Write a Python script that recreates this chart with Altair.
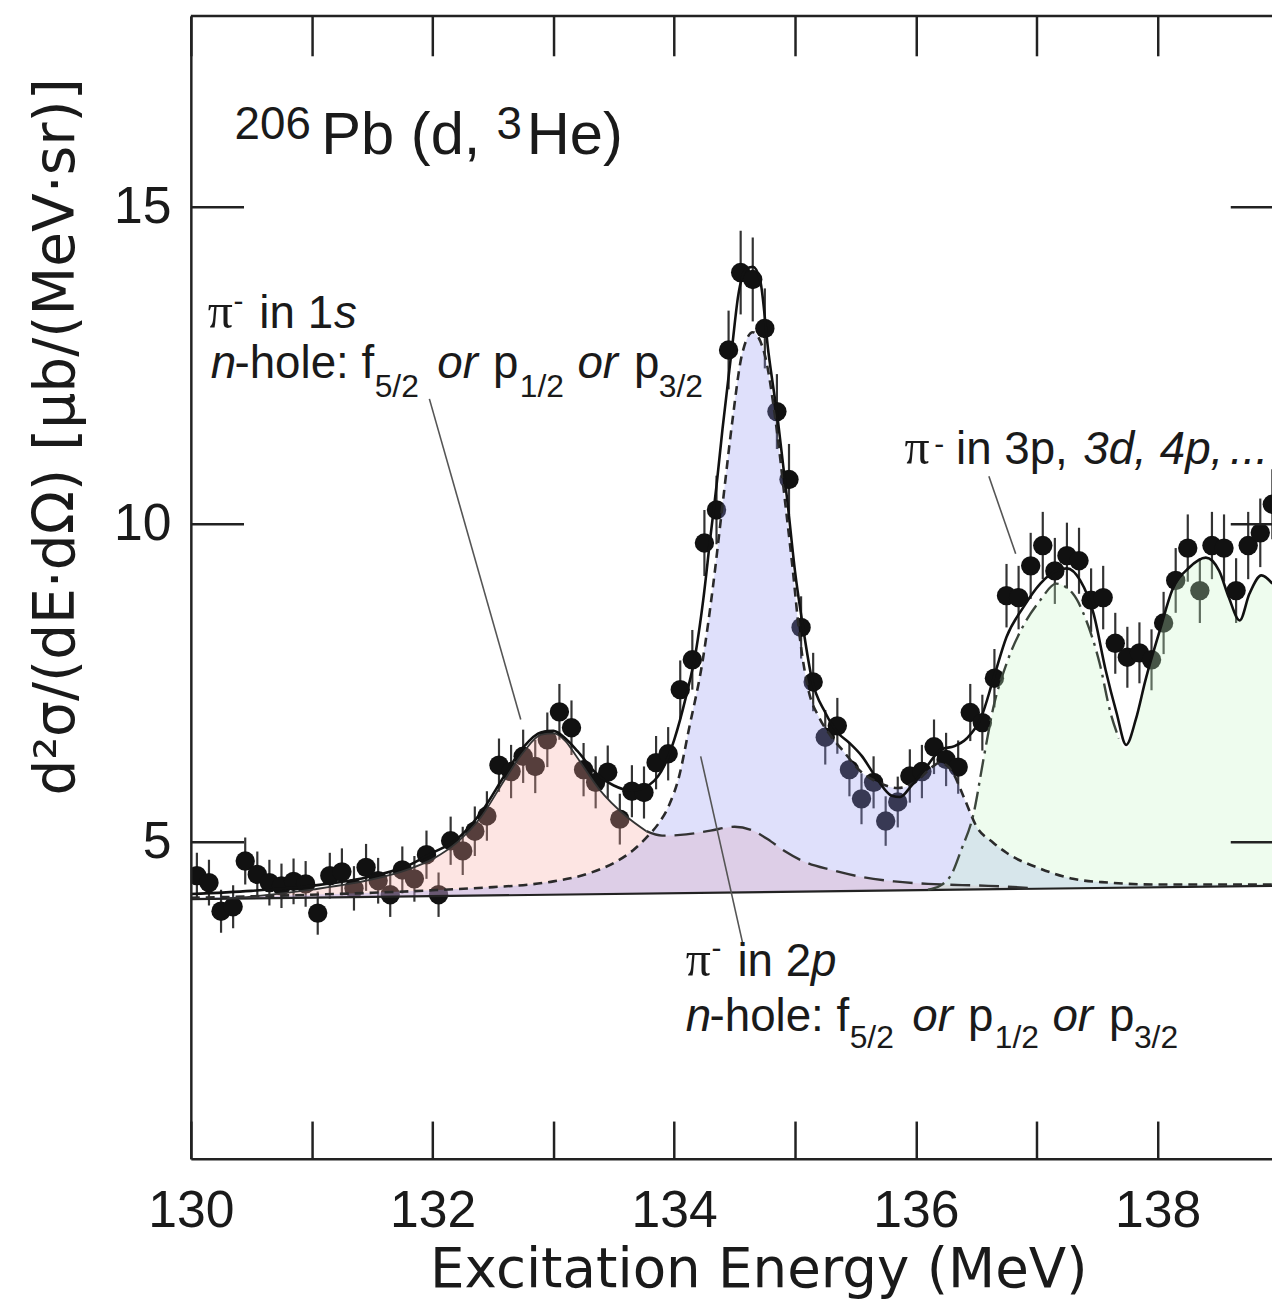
import altair as alt
import pandas as pd

# ---------------- data ----------------
energy = [130.05, 130.15, 130.25, 130.35, 130.45, 130.55, 130.65, 130.75, 130.85, 130.95,
          131.05, 131.15, 131.25, 131.35, 131.45, 131.55, 131.65, 131.75, 131.85, 131.95,
          132.05, 132.15, 132.25, 132.35, 132.45, 132.55, 132.65, 132.75, 132.85, 132.95,
          133.05, 133.15, 133.25, 133.35, 133.45, 133.55, 133.65, 133.75, 133.85, 133.95,
          134.05, 134.15, 134.25, 134.35, 134.45, 134.55, 134.65, 134.75, 134.85, 134.95,
          135.05, 135.15, 135.25, 135.35, 135.45, 135.55, 135.65, 135.75, 135.85, 135.95,
          136.05, 136.15, 136.25, 136.35, 136.45, 136.55, 136.65, 136.75, 136.85, 136.95,
          137.05, 137.15, 137.25, 137.35, 137.45, 137.55, 137.65, 137.75, 137.85, 137.95,
          138.05, 138.15, 138.25, 138.35, 138.45, 138.55, 138.65, 138.75, 138.85, 138.95]
xsec = [4.46, 4.35, 3.90, 3.97, 4.69, 4.48, 4.35, 4.30, 4.37, 4.33,
        3.87, 4.46, 4.52, 4.26, 4.59, 4.38, 4.16, 4.55, 4.41, 4.79,
        4.16, 5.01, 4.85, 5.16, 5.40, 6.20, 6.10, 6.34, 6.18, 6.60,
        7.04, 6.79, 6.13, 5.93, 6.09, 5.35, 5.79, 5.77, 6.24, 6.38,
        7.39, 7.86, 9.70, 10.22, 12.74, 13.96, 13.85, 13.08, 11.77, 10.70,
        8.37, 7.51, 6.64, 6.82, 6.13, 5.67, 5.93, 5.32, 5.62, 6.03,
        6.10, 6.49, 6.29, 6.17, 7.03, 6.87, 7.57, 8.87, 8.84, 9.34,
        9.66, 9.26, 9.50, 9.42, 8.80, 8.84, 8.12, 7.90, 7.97, 7.86,
        8.44, 9.11, 9.62, 8.95, 9.66, 9.62, 8.95, 9.66, 9.86, 10.31]
err = [0.36, 0.36, 0.34, 0.34, 0.37, 0.36, 0.36, 0.35, 0.36, 0.36,
       0.34, 0.36, 0.37, 0.35, 0.37, 0.36, 0.35, 0.37, 0.36, 0.38,
       0.35, 0.38, 0.38, 0.39, 0.39, 0.42, 0.42, 0.42, 0.42, 0.43,
       0.44, 0.43, 0.42, 0.41, 0.42, 0.40, 0.41, 0.41, 0.42, 0.42,
       0.46, 0.47, 0.52, 0.54, 0.62, 0.66, 0.66, 0.63, 0.59, 0.56,
       0.49, 0.46, 0.43, 0.44, 0.42, 0.40, 0.41, 0.39, 0.40, 0.42,
       0.42, 0.43, 0.42, 0.42, 0.45, 0.44, 0.46, 0.50, 0.50, 0.52,
       0.53, 0.52, 0.52, 0.52, 0.50, 0.50, 0.48, 0.48, 0.48, 0.48,
       0.49, 0.51, 0.53, 0.51, 0.53, 0.53, 0.51, 0.53, 0.54, 0.55]

# total fit (solid)
total_E = [130.0, 130.5, 131.0, 131.5, 131.8, 132.0, 132.2, 132.4, 132.6, 132.75,
           132.9, 133.0, 133.1, 133.2, 133.35, 133.5, 133.65, 133.8, 133.92, 134.0,
           134.1, 134.18, 134.24, 134.3, 134.35, 134.4, 134.48, 134.53, 134.59, 134.65,
           134.71, 134.78, 134.86, 134.94, 135.0, 135.06, 135.14, 135.25, 135.35, 135.45,
           135.55, 135.68, 135.8, 135.87, 135.96, 136.09, 136.21, 136.32, 136.42, 136.54,
           136.64, 136.75, 136.89, 137.03, 137.16, 137.25, 137.36, 137.47, 137.57, 137.66,
           137.74, 137.82, 137.9, 138.02, 138.12, 138.26, 138.4, 138.51, 138.59, 138.68,
           138.76, 138.86, 138.95]
total_v = [4.17, 4.22, 4.30, 4.45, 4.62, 4.82, 5.03, 5.45, 6.05, 6.48,
           6.72, 6.74, 6.62, 6.42, 6.08, 5.88, 5.80, 5.90, 6.20, 6.60,
           7.30, 8.00, 8.80, 9.80, 10.6, 11.5, 12.8, 13.6, 14.0, 14.05,
           13.85, 12.7, 11.6, 10.3, 9.25, 8.45, 7.55, 7.03, 6.72, 6.55,
           6.35, 5.98, 5.72, 5.70, 5.87, 6.18, 6.45, 6.50, 6.62, 6.95,
           7.55, 8.22, 8.69, 9.06, 9.26, 9.30, 9.11, 8.59, 7.70, 7.03,
           6.52, 6.92, 7.54, 8.33, 8.95, 9.31, 9.47, 9.26, 8.84, 8.48,
           8.90, 9.19, 9.06]

# pi- in 2p component (blue, short dashes)
blue_E = [130.0, 131.0, 131.5, 132.0, 132.5, 132.8, 133.0, 133.3, 133.5, 133.66,
          133.79, 133.87, 133.96, 134.04, 134.12, 134.24, 134.32, 134.40, 134.48, 134.56,
          134.65, 134.75, 134.84, 134.92, 134.98, 135.04, 135.11, 135.20, 135.30, 135.40,
          135.55, 135.70, 135.85, 136.00, 136.12, 136.20, 136.30, 136.40, 136.50, 136.64,
          136.75, 137.03, 137.30, 137.60, 138.00, 138.95]
blue_v = [4.11, 4.16, 4.19, 4.23, 4.28, 4.32, 4.37, 4.50, 4.66, 4.86,
          5.10, 5.28, 5.58, 6.02, 6.75, 7.90, 9.00, 10.30, 11.60, 12.66,
          13.02, 12.66, 11.61, 10.31, 9.30, 8.20, 7.39, 6.95, 6.65, 6.42,
          6.09, 5.92, 5.84, 5.94, 6.15, 6.24, 6.10, 5.68, 5.24, 4.98,
          4.82, 4.57, 4.41, 4.35, 4.32, 4.32]

# pi- in 1s component (pink, solid edge then long dashes)
pink_E = [130.3, 130.5, 131.0, 131.5, 131.8, 132.0, 132.2, 132.4, 132.6, 132.75,
          132.9, 133.0, 133.1, 133.19, 133.38, 133.6, 133.77, 133.9, 134.1, 134.3,
          134.5, 134.65, 134.8, 134.92, 135.1, 135.3, 135.55, 135.82, 136.1, 136.6, 137.0]
pink_v = [4.10, 4.13, 4.24, 4.40, 4.56, 4.72, 4.98, 5.38, 5.98, 6.40,
          6.68, 6.70, 6.58, 6.34, 5.82, 5.40, 5.16, 5.09, 5.11, 5.17,
          5.23, 5.17, 5.00, 4.84, 4.66, 4.55, 4.44, 4.37, 4.33, 4.30, 4.26]

# pi- in 3p, 3d, 4p ... component (green, dash-dot)
green_E = [136.10, 136.20, 136.30, 136.37, 136.48, 136.56, 136.64, 136.75, 136.89, 137.03,
           137.16, 137.30, 137.41, 137.52, 137.61, 137.68, 137.74, 137.82, 137.90, 138.02,
           138.12, 138.26, 138.40, 138.51, 138.59, 138.68, 138.76, 138.86, 138.95]
green_v = [4.24, 4.30, 4.50, 4.84, 5.46, 6.30, 7.10, 7.80, 8.40, 8.80,
           9.06, 8.90, 8.48, 7.81, 7.03, 6.62, 6.45, 6.88, 7.50, 8.30,
           8.92, 9.28, 9.45, 9.24, 8.82, 8.46, 8.88, 9.17, 9.04]

# flat background
base_E = [130.0, 138.95]
base_v = [4.09, 4.30]

x_label_values = [130, 132, 134, 136, 138]
x_tick_values = [130, 131, 132, 133, 134, 135, 136, 137, 138]
y_tick_values = [5, 10, 15]

# text pieces: text, energy, value, font size, style (n normal, i italic, s serif)
anno_text = ["206", "Pb (d, ", "3", "He)",
             "π", "-", "in 1", "s",
             "n", "-hole: f", "5/2", "or", "p", "1/2", "or", "p", "3/2",
             "π", "-", "in 2", "p",
             "n", "-hole: f", "5/2", "or", "p", "1/2", "or", "p", "3/2",
             "π", "-", "in 3p,", "3d,", "4p,", "..."]
anno_E = [130.362, 131.080, 132.530, 132.780,
          130.140, 130.354, 130.567, 131.184,
          130.164, 130.361, 131.521, 132.039, 132.500, 132.722, 133.199, 133.668, 133.873,
          134.095, 134.309, 134.523, 135.132,
          134.095, 134.292, 135.452, 135.970, 136.431, 136.653, 137.130, 137.599, 137.804,
          135.905, 136.151, 136.332, 137.385, 138.018, 138.600]
anno_v = [16.07, 15.83, 16.07, 15.83,
          13.08, 13.35, 13.08, 13.08,
          12.30, 12.30, 12.00, 12.30, 12.30, 12.00, 12.30, 12.30, 12.00,
          2.88, 3.16, 2.88, 2.88,
          2.01, 2.01, 1.75, 2.01, 2.01, 1.75, 2.01, 2.01, 1.75,
          10.94, 11.10, 10.94, 10.94, 10.94, 10.94]
anno_size = [46, 60, 46, 60,
             50, 30, 46, 46,
             46, 46, 32, 46, 46, 32, 46, 46, 32,
             50, 30, 46, 46,
             46, 46, 32, 46, 46, 32, 46, 46, 32,
             50, 30, 46, 46, 46, 46]
anno_style = ["n", "n", "n", "n",
              "s", "n", "n", "i",
              "i", "n", "n", "i", "n", "n", "i", "n", "n",
              "s", "n", "n", "i",
              "i", "n", "n", "i", "n", "n", "i", "n", "n",
              "s", "n", "n", "i", "i", "i"]

# leader lines (start energy, start value, end energy, end value)
lead_E1 = [131.974, 134.219, 136.604]
lead_v1 = [11.97, 6.34, 10.75]
lead_E2 = [132.730, 134.572, 136.826]
lead_v2 = [6.92, 3.35, 9.53]

# ---------------- chart ----------------
XDOM = [130, 138.947]
YDOM = [0, 18]
xs = alt.Scale(domain=XDOM, nice=False, zero=False)
ys = alt.Scale(domain=YDOM, nice=False, zero=False)

slope = (base_v[1] - base_v[0]) / (base_E[1] - base_E[0])
base_expr = f"{base_v[0]} + (datum.E - {base_E[0]}) * {slope}"

pts = pd.DataFrame({"E": energy, "v": xsec, "e": err})
tot = pd.DataFrame({"E": total_E, "v": total_v})
blue = pd.DataFrame({"E": blue_E, "v": blue_v})
pink = pd.DataFrame({"E": pink_E, "v": pink_v})
green = pd.DataFrame({"E": green_E, "v": green_v})
base = pd.DataFrame({"E": base_E, "v": base_v})
anno = pd.DataFrame({"t": anno_text, "E": anno_E, "v": anno_v, "s": anno_size, "st": anno_style})
lead = pd.DataFrame({"E": lead_E1, "v": lead_v1, "E2": lead_E2, "v2": lead_v2})

INK = "#1a1a1a"

ax_x_main = alt.Axis(values=x_label_values, format="d", ticks=False, tickSize=0, grid=False,
                     labelFont="Liberation Sans", labelFontSize=52, labelColor=INK,
                     labelPadding=27, labelFlush=False, labelOverlap=False,
                     domain=True, domainColor="#222", domainWidth=2.5,
                     title="Excitation Energy (MeV)", titleFont="DejaVu Sans", titleFontSize=55,
                     titleFontWeight="normal", titleColor=INK, titleX=571, titleY=129,
                     titleAlign="center", titleBaseline="alphabetic", zindex=3)
ax_y_main = alt.Axis(values=y_tick_values, format="d", ticks=False, tickSize=0, grid=False,
                     labelFont="Liberation Sans", labelFontSize=52, labelColor=INK,
                     labelPadding=20, labelFlush=False, labelOverlap=False,
                     domain=True, domainColor="#222", domainWidth=2.5,
                     title="d²σ/(dE·dΩ)  [μb/(MeV·sr)]", titleFont="DejaVu Sans", titleFontSize=57,
                     titleFontWeight="normal", titleColor=INK, titleAngle=270,
                     titleX=-118, titleY=423, titleAlign="center", titleBaseline="alphabetic",
                     zindex=3)

def tick_axis(orient, values, size):
    return alt.Axis(orient=orient, offset=-size, tickSize=size, values=values, labels=False,
                    domain=False, grid=False, title=None, tickColor="#222", tickWidth=2.5, zindex=3)

# error bars (carry main axes)
errbars = alt.Chart(pts).transform_calculate(
    lo="datum.v - datum.e", hi="datum.v + datum.e"
).mark_rule(color="#333333", strokeWidth=2.2, clip=True).encode(
    x=alt.X("E:Q", scale=xs, axis=ax_x_main),
    y=alt.Y("lo:Q", scale=ys, axis=ax_y_main),
    y2="hi:Q",
)

dots = alt.Chart(pts).mark_circle(size=380, color="#111111", opacity=1, clip=True).encode(
    x=alt.X("E:Q", scale=xs, axis=None),
    y=alt.Y("v:Q", scale=ys, axis=None),
)

def area(df, color):
    return alt.Chart(df).transform_calculate(b=base_expr).mark_area(
        color=color, opacity=0.3, interpolate="monotone", clip=True
    ).encode(
        x=alt.X("E:Q", scale=xs, axis=None),
        y=alt.Y("v:Q", scale=ys, axis=None),
        y2="b:Q",
    )

pink_area = area(pink, "#f8a8a2")
blue_area = area(blue, "#9498f2")
green_area = area(green, "#c6f5c6")

def line(df, color, width, dash=None, flt=None, x_axis=None, y_axis=None):
    kw = dict(color=color, strokeWidth=width, interpolate="monotone", clip=True)
    if dash is not None:
        kw["strokeDash"] = dash
    ch = alt.Chart(df)
    if flt is not None:
        ch = ch.transform_filter(flt)
    return ch.mark_line(**kw).encode(
        x=alt.X("E:Q", scale=xs, axis=x_axis),
        y=alt.Y("v:Q", scale=ys, axis=y_axis),
    )

blue_line = line(blue, "#2a2a2a", 2.6, dash=[9, 6])
pink_solid = line(pink, "#333333", 1.8, flt="datum.E <= 133.8")
pink_dash = line(pink, "#333333", 2.4, dash=[20, 9], flt="datum.E >= 133.77")
green_line = line(green, "#3c463c", 2.4, dash=[18, 6, 3, 6], flt="datum.E <= 137.68")
base_line = line(base, "#222222", 2.2,
                 x_axis=tick_axis("bottom", x_tick_values, 38),
                 y_axis=tick_axis("left", y_tick_values, 53))
total_line = line(tot, "#111111", 2.6,
                  x_axis=tick_axis("top", x_tick_values, 40),
                  y_axis=tick_axis("right", y_tick_values, 42))

top_border = alt.Chart(base).mark_rule(color="#222", strokeWidth=2.5).encode(
    y=alt.Y("top:Q", scale=ys, axis=None)
).transform_calculate(top=str(YDOM[1])).transform_filter("datum.E == %s" % base_E[0])

leaders = alt.Chart(lead).mark_rule(color="#555555", strokeWidth=1.6).encode(
    x=alt.X("E:Q", scale=xs, axis=None),
    y=alt.Y("v:Q", scale=ys, axis=None),
    x2="E2:Q",
    y2="v2:Q",
)

def texts(style, font, italic=False):
    kw = dict(align="left", baseline="alphabetic", font=font, color=INK)
    if italic:
        kw["fontStyle"] = "italic"
    return alt.Chart(anno).transform_filter(f"datum.st == '{style}'").mark_text(**kw).encode(
        x=alt.X("E:Q", scale=xs, axis=None),
        y=alt.Y("v:Q", scale=ys, axis=None),
        text="t:N",
        size=alt.Size("s:Q", scale=None, legend=None),
    )

txt_n = texts("n", "Liberation Sans")
txt_i = texts("i", "Liberation Sans", italic=True)
txt_s = texts("s", "Liberation Serif")

chart = alt.layer(
    errbars, dots,
    pink_area, blue_area, green_area,
    base_line, blue_line, pink_solid, pink_dash, green_line, total_line,
    top_border, leaders, txt_n, txt_i, txt_s,
).resolve_axis(x="independent", y="independent").properties(
    width=1088, height=1150,
    padding={"left": 184, "top": 4, "right": 0, "bottom": 140},
    autosize=alt.AutoSizeParams(type="none"),
).configure_view(strokeOpacity=0)

chart.save("out.html", embed_options={"renderer": "svg", "actions": False})
